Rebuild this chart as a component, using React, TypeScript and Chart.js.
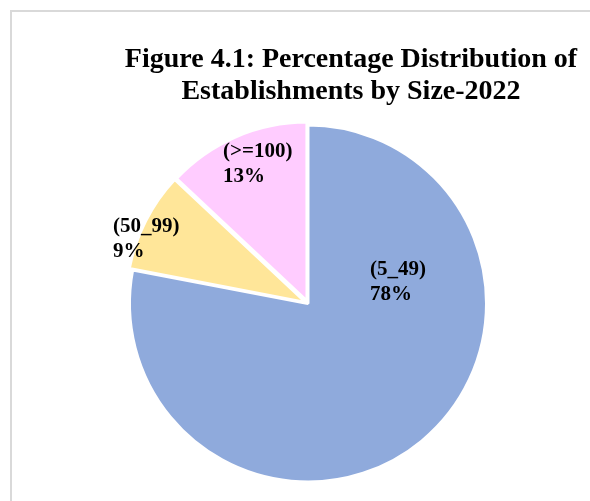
import React, { useEffect, useRef } from "react";
import { Chart, registerables } from "chart.js";

Chart.register(...registerables);

// ---- data ----
const categories = ["(5_49)", "(50_99)", "(>=100)"];
const percentages = [78, 9, 13];
const sliceColors = ["#8FAADC", "#FFE699", "#FFCCFF"];
const sliceOffsets = [0, 10, 10];
const titleLines = ["Figure 4.1: Percentage Distribution of", "Establishments by Size-2022"];

// label anchors: [dx, dy] as fraction of the pie radius, relative to pie centre (left / first baseline)
const labelAnchors: [number, number][] = [
  [0.347, -0.16],
  [-1.092, -0.401],
  [-0.476, -0.821],
];

const SERIF = '"Liberation Serif", "Times New Roman", Times, serif';

export default function App() {
  const ref = useRef<HTMLCanvasElement | null>(null);

  useEffect(() => {
    if (!ref.current) return;

    const titlePlugin = {
      id: "figTitle",
      afterDraw(chart: any) {
        const ctx = chart.ctx;
        ctx.save();
        ctx.font = `bold 28px ${SERIF}`;
        ctx.fillStyle = "#000";
        ctx.textAlign = "center";
        ctx.textBaseline = "alphabetic";
        titleLines.forEach((l, i) => ctx.fillText(l, 351, 67 + i * 31.5));
        ctx.restore();
      },
    };

    const labelPlugin = {
      id: "sliceLabels",
      afterDatasetsDraw(chart: any) {
        const meta = chart.getDatasetMeta(0);
        const ctx = chart.ctx;
        ctx.save();
        ctx.font = `bold 21px ${SERIF}`;
        ctx.fillStyle = "#000";
        ctx.textAlign = "left";
        ctx.textBaseline = "alphabetic";
        meta.data.forEach((arc: any, i: number) => {
          const { x, y, outerRadius } = arc.getProps(["x", "y", "outerRadius"], true);
          const [fx, fy] = labelAnchors[i];
          const lx = x + fx * outerRadius;
          const ly = y + fy * outerRadius;
          const lines = [categories[i], `${percentages[i]}%`];
          lines.forEach((t, k) => ctx.fillText(t, lx, ly + k * 25));
        });
        ctx.restore();
      },
    };

    const chart = new Chart(ref.current, {
      type: "pie",
      data: {
        labels: categories,
        datasets: [
          {
            data: percentages,
            backgroundColor: sliceColors,
            borderColor: "#FFFFFF",
            borderWidth: 3,
            hoverBorderWidth: 3,
            offset: sliceOffsets,
            hoverOffset: 0,
          },
        ],
      },
      options: {
        responsive: false,
        animation: false,
        devicePixelRatio: 1,
        layout: { padding: { left: 123, right: 97, top: 118.5, bottom: 12.5 } },
        plugins: {
          legend: { display: false },
          tooltip: { enabled: false },
          title: { display: false },
        },
        events: [],
      },
      plugins: [titlePlugin, labelPlugin],
    } as any);

    return () => chart.destroy();
  }, []);

  return (
    <div
      style={{
        position: "fixed",
        left: 0,
        top: 0,
        width: 590,
        height: 501,
        overflow: "hidden",
        background: "#fff",
      }}
    >
      <div
        style={{
          position: "absolute",
          left: 10,
          top: 10,
          width: 700,
          height: 700,
          border: "2px solid #D9D9D9",
        }}
      />
      <canvas ref={ref} width={590} height={501} style={{ position: "absolute", left: 0, top: 0 }} />
    </div>
  );
}
